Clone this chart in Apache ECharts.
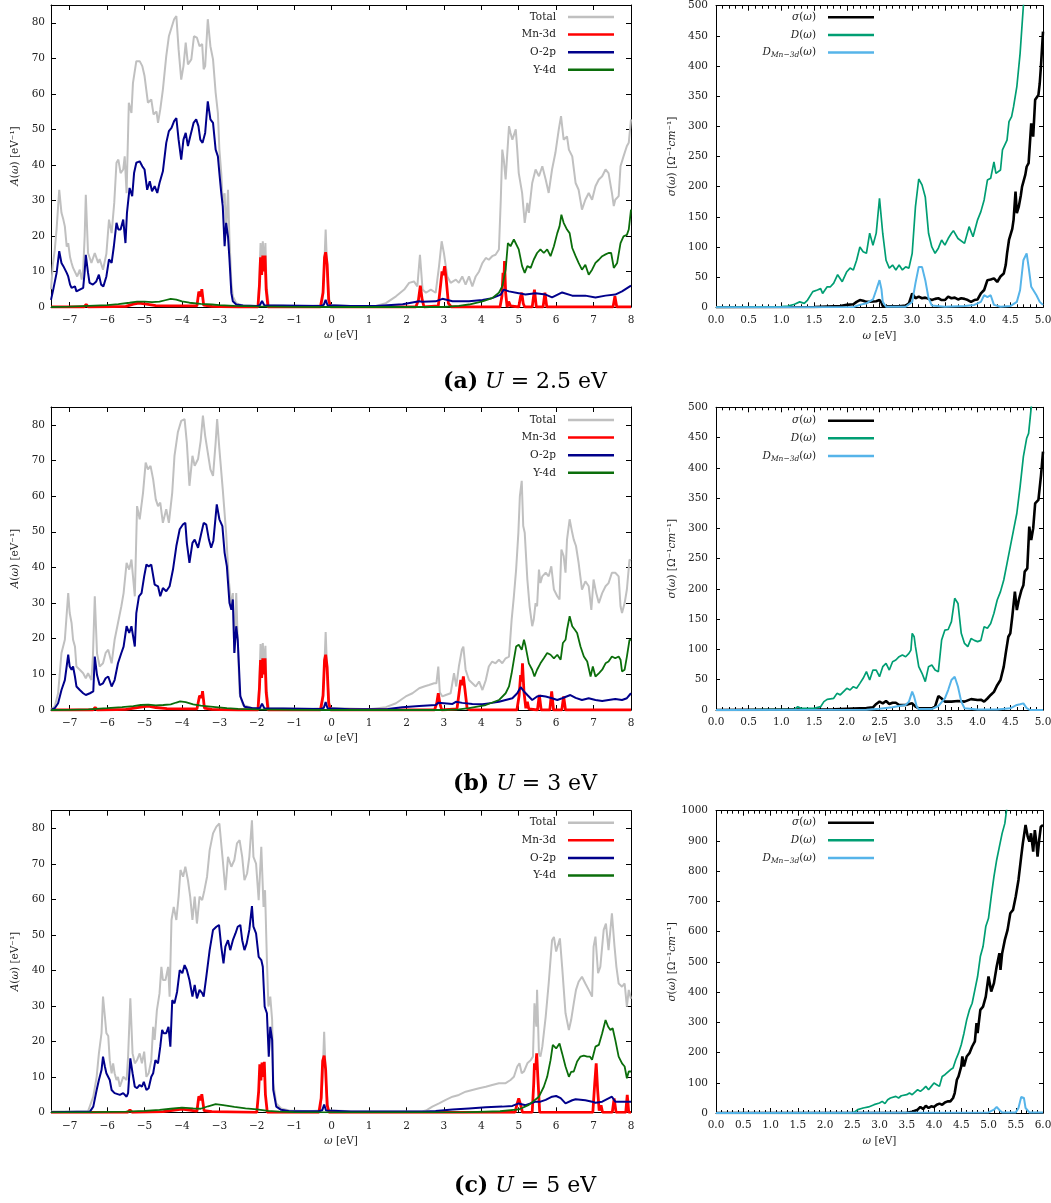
<!DOCTYPE html>
<html><head><meta charset="utf-8">
<script src="https://cdn.jsdelivr.net/npm/echarts@6/dist/echarts.min.js"></script>
<style>html,body{margin:0;padding:0;background:#fff}#c{width:1051px;height:1203px}</style>
</head><body><div id="c"></div>
<script>
// ---------------- DATA ----------------
const dosXTicks = [-7,-6,-5,-4,-3,-2,-1,0,1,2,3,4,5,6,7,8];
const dosYTicks = [0,10,20,30,40,50,60,70,80];
const dosNames = ['Total','Mn-3d','O-2p','Y-4d'];
const optNames = ['σ(ω)','D(ω)','DMn(ω)'];
const captions = [['(a)','2.5'],['(b)','3'],['(c)','5']];

// (a) U = 2.5 eV
const a_total = [[-7.5,5],[-7.45,12],[-7.4,16],[-7.35,22],[-7.28,33],[-7.22,26.5],[-7.17,24.6],[-7.13,22.7],[-7.08,17],[-7.04,18],[-6.99,14],[-6.95,12.4],[-6.91,11],[-6.86,10.5],[-6.8,8.6],[-6.73,10.5],[-6.68,7.7],[-6.64,10.5],[-6.6,20],[-6.57,31.6],[-6.51,15.2],[-6.42,12.4],[-6.33,15.2],[-6.24,12.4],[-6.2,13.5],[-6.11,10.5],[-6.02,15],[-5.95,24.6],[-5.88,20.8],[-5.81,29.3],[-5.75,40.6],[-5.7,41.5],[-5.64,37.7],[-5.57,38.7],[-5.53,42.4],[-5.48,32],[-5.42,57.5],[-5.35,54.6],[-5.31,63],[-5.22,69.2],[-5.13,69.2],[-5.06,67.8],[-5.0,65],[-4.91,57.5],[-4.82,58.4],[-4.76,54.2],[-4.68,55],[-4.64,51.8],[-4.58,55.6],[-4.51,61.2],[-4.42,70.6],[-4.35,76.2],[-4.28,78.6],[-4.21,81],[-4.15,81.9],[-4.09,72.5],[-4.02,64],[-3.96,67.8],[-3.9,74.4],[-3.84,68.3],[-3.75,69.7],[-3.68,76.2],[-3.6,75.8],[-3.53,73.4],[-3.46,74],[-3.42,66.9],[-3.38,67.8],[-3.31,81],[-3.24,73.4],[-3.17,69.7],[-3.1,60.3],[-3.04,54.6],[-3.0,44.3],[-2.95,37.7],[-2.91,29.3],[-2.86,32],[-2.82,20.8],[-2.77,33],[-2.73,19],[-2.68,6.8],[-2.64,3],[-2.55,1.1],[-2.37,0.4],[-2.1,0.3],[-1.97,0.3],[-1.93,8],[-1.9,18],[-1.87,10],[-1.84,18.5],[-1.8,12],[-1.77,18],[-1.74,6],[-1.68,0.5],[-1.2,0.3],[-0.5,0.3],[-0.26,0.5],[-0.21,8],[-0.16,21.8],[-0.11,8],[-0.05,0.6],[0.5,0.3],[1.0,0.2],[1.18,0.3],[1.45,1.1],[1.72,3],[1.94,4.9],[2.07,6.8],[2.2,7.2],[2.29,5.8],[2.36,14.7],[2.43,4.9],[2.52,4],[2.65,4.9],[2.78,4],[2.87,11.5],[2.94,18.5],[3.0,15.2],[3.09,8.6],[3.18,6.8],[3.32,7.7],[3.4,6.8],[3.49,8.6],[3.58,6.3],[3.67,8.6],[3.76,5.8],[3.85,8.6],[3.94,10],[4.03,12.4],[4.12,13.8],[4.2,13.3],[4.29,14.3],[4.38,14.7],[4.47,16.2],[4.52,30.2],[4.56,44.3],[4.6,41.5],[4.65,35.9],[4.74,50.9],[4.78,49],[4.83,47.1],[4.92,50],[4.96,44.3],[5.0,37.7],[5.09,32.1],[5.16,23.7],[5.23,29.3],[5.27,26.5],[5.36,34.9],[5.45,38.7],[5.54,36.8],[5.63,39.6],[5.72,35.9],[5.8,32.1],[5.89,38.7],[5.98,43.4],[6.07,50],[6.13,53.7],[6.2,47.1],[6.29,48],[6.34,44.3],[6.43,42.4],[6.52,34.9],[6.6,33],[6.69,27.4],[6.78,30.2],[6.87,32.1],[6.96,30.2],[7.05,34],[7.14,35.9],[7.23,36.8],[7.32,38.7],[7.4,37.7],[7.49,32.1],[7.54,28.4],[7.58,30.2],[7.67,31.2],[7.72,39.6],[7.8,42.4],[7.89,45.3],[7.94,46.2],[8.0,52.8]];
const a_mn = [[-7.5,0],[-6.62,0],[-6.56,0.7],[-6.5,0],[-5.5,0.2],[-5.3,0.8],[-5.15,1.1],[-4.95,0.8],[-4.7,0.4],[-4.3,0.3],[-3.6,0.3],[-3.57,0.5],[-3.55,4.3],[-3.52,4.6],[-3.49,3],[-3.47,5],[-3.44,4.5],[-3.42,0.5],[-3.2,0.2],[-2.5,0],[-1.97,0],[-1.93,6],[-1.9,14],[-1.87,9],[-1.84,14.5],[-1.81,10],[-1.78,14.5],[-1.75,5],[-1.7,0],[-0.3,0],[-0.23,4],[-0.19,14],[-0.16,15.4],[-0.12,12],[-0.08,2],[-0.03,0],[0.65,0],[0.7,0.3],[0.75,0],[2.25,0],[2.32,2],[2.37,6],[2.42,2],[2.47,0],[2.85,0.3],[2.91,6],[2.95,10],[2.98,9],[3.02,11.5],[3.06,8],[3.12,1],[3.2,0],[4.5,0],[4.55,3],[4.58,9.6],[4.6,6],[4.62,12.9],[4.65,4],[4.69,0],[4.73,1.5],[4.75,2],[4.78,0.3],[5.0,0],[5.05,3],[5.08,4],[5.12,1],[5.16,0],[5.36,0],[5.42,4.9],[5.47,0],[5.65,0],[5.7,4],[5.75,0],[7.52,0],[7.57,3],[7.62,0],[8,0]];
const a_o = [[-7.5,2],[-7.44,4.9],[-7.35,9.6],[-7.28,15.7],[-7.22,12.4],[-7.17,11.5],[-7.13,11.8],[-7.08,9.6],[-7.04,8.6],[-6.99,6.3],[-6.95,5.4],[-6.91,4.9],[-6.86,5.8],[-6.82,4.4],[-6.77,3.9],[-6.73,4.9],[-6.68,4.4],[-6.64,5.4],[-6.6,10],[-6.57,14.7],[-6.51,9.6],[-6.47,6.8],[-6.38,6.3],[-6.29,7.2],[-6.22,9.1],[-6.16,6.3],[-6.1,5.8],[-6.02,8.6],[-5.95,13.4],[-5.88,12.4],[-5.82,17.1],[-5.75,23.7],[-5.7,21.8],[-5.64,21.8],[-5.57,24.6],[-5.51,18],[-5.47,26.5],[-5.4,33.5],[-5.33,31.2],[-5.28,37.7],[-5.22,40.6],[-5.13,41],[-5.06,39.6],[-5.0,38.7],[-4.93,33],[-4.86,35.4],[-4.8,32.6],[-4.73,34],[-4.66,32.1],[-4.6,34.9],[-4.51,38.2],[-4.42,46.2],[-4.35,49.5],[-4.28,50.4],[-4.21,52.3],[-4.15,53.2],[-4.09,47.1],[-4.02,41.5],[-3.96,47.1],[-3.9,49],[-3.84,45.3],[-3.78,48],[-3.69,51.8],[-3.62,52.8],[-3.56,50.9],[-3.51,47.1],[-3.45,46.2],[-3.38,49],[-3.31,57.9],[-3.24,52.8],[-3.17,51.8],[-3.1,44.3],[-3.04,42.4],[-3.0,37.7],[-2.95,32.1],[-2.91,28.4],[-2.86,17.1],[-2.82,23.7],[-2.77,19.9],[-2.73,13.3],[-2.68,3.9],[-2.64,1.6],[-2.55,0.7],[-2.37,0.4],[-2.0,0.3],[-1.92,0.5],[-1.86,1.7],[-1.8,0.5],[-0.3,0.3],[-0.21,0.6],[-0.16,2],[-0.11,0.5],[0.5,0.3],[1.18,0.3],[1.9,0.8],[2.34,1.6],[2.37,2],[2.42,1.5],[2.78,1.6],[2.96,2.3],[3.23,1.6],[3.67,1.6],[4.03,2],[4.29,2.5],[4.52,3.5],[4.6,4.9],[4.74,4.4],[5.0,3.9],[5.18,3.5],[5.45,3.9],[5.72,3.5],[5.89,2.7],[6.16,4.1],[6.43,3.2],[6.78,3.2],[7.05,2.7],[7.32,3.2],[7.58,3.5],[7.76,4.4],[8.0,6]];
const a_y = [[-7.5,0],[-7.0,0.1],[-6.5,0.3],[-6.0,0.5],[-5.7,0.8],[-5.4,1.2],[-5.2,1.5],[-5.0,1.5],[-4.8,1.4],[-4.6,1.5],[-4.45,1.9],[-4.3,2.3],[-4.15,2.1],[-4.0,1.6],[-3.8,1.2],[-3.5,0.9],[-3.2,0.7],[-3.0,0.5],[-2.6,0.3],[-2.0,0.15],[-1.0,0.05],[0,0],[3.0,0],[3.4,0.3],[3.67,0.7],[4.03,1.6],[4.29,2.5],[4.47,4],[4.56,5.8],[4.65,10.5],[4.71,18],[4.78,17.1],[4.87,19],[4.92,19.4],[5.0,16.2],[5.09,11.5],[5.16,9.6],[5.23,11.5],[5.32,11],[5.4,13.3],[5.49,15.2],[5.58,16.2],[5.67,15.2],[5.76,16.2],[5.85,14.3],[5.94,17.1],[6.03,20.8],[6.09,22.7],[6.14,26],[6.2,23.7],[6.29,21.8],[6.36,20.8],[6.43,16.6],[6.52,14.3],[6.6,12.4],[6.69,10.5],[6.78,11.9],[6.87,9.1],[6.96,10.5],[7.05,12.4],[7.14,13.3],[7.23,14.3],[7.32,14.8],[7.4,15.2],[7.47,15.2],[7.54,11],[7.63,12.4],[7.72,18],[7.8,19.9],[7.89,20.3],[7.94,21.8],[8.0,27.4]];
const ra_sig = [[0,0],[1.5,0.5],[1.9,2],[2.0,4],[2.1,5],[2.15,9],[2.2,12],[2.25,11],[2.3,9],[2.4,9.5],[2.45,10],[2.5,12],[2.53,8],[2.55,2],[2.6,1.5],[2.8,1.5],[2.9,3],[2.95,6.6],[3.0,23],[3.05,15],[3.1,17.7],[3.15,15],[3.2,16],[3.25,14],[3.3,12],[3.35,14],[3.4,15],[3.45,12],[3.5,12],[3.55,17.7],[3.6,15],[3.65,16],[3.7,13],[3.75,15],[3.8,14],[3.85,12],[3.9,9],[3.95,12],[4.0,13],[4.05,23],[4.1,28.7],[4.15,45],[4.2,46],[4.25,48],[4.3,42],[4.35,51],[4.4,56],[4.43,70],[4.45,89],[4.48,111.6],[4.5,114],[4.53,130],[4.55,145],[4.58,192],[4.6,156],[4.63,167],[4.66,185],[4.68,200],[4.7,208],[4.73,220],[4.75,233],[4.78,239],[4.82,305],[4.85,283],[4.88,344],[4.93,352],[4.95,371],[4.97,402],[5.0,457]];
const ra_D = [[0,0],[1.0,1],[1.1,2],[1.2,5],[1.28,9],[1.35,6.6],[1.4,12],[1.48,26],[1.55,28.7],[1.6,31],[1.63,23],[1.7,34],[1.75,34],[1.8,40],[1.86,54],[1.93,42.5],[2.0,59],[2.05,65],[2.1,62],[2.15,78],[2.2,100],[2.25,92],[2.3,89.5],[2.35,123],[2.4,103],[2.45,123],[2.5,180.7],[2.55,122],[2.6,78],[2.65,65],[2.7,70],[2.75,62],[2.8,70],[2.85,62],[2.9,67],[2.95,65],[3.0,89.5],[3.05,167],[3.1,212.7],[3.15,203],[3.2,183],[3.25,122.7],[3.3,100],[3.35,89.5],[3.4,98],[3.45,111.6],[3.5,103],[3.55,114],[3.6,122.7],[3.63,127],[3.7,114],[3.8,106],[3.83,103],[3.87,133.7],[3.9,133],[3.93,117],[4.0,145],[4.05,158.6],[4.1,178],[4.15,211],[4.2,214],[4.25,241],[4.28,222],[4.35,227.6],[4.38,260.8],[4.45,277],[4.48,307.7],[4.52,316],[4.55,332.6],[4.6,365.7],[4.65,421],[4.7,500],[4.75,580]];
const ra_Dmn = [[0,0],[2.1,0.5],[2.2,4],[2.3,6.6],[2.4,13],[2.45,28.7],[2.5,45],[2.53,30],[2.55,9],[2.6,1],[2.9,1],[3.0,9],[3.05,40],[3.1,67],[3.15,67],[3.2,45],[3.25,15],[3.3,3],[3.5,1],[3.8,2],[3.95,4],[4.05,9],[4.1,20],[4.15,17],[4.2,20],[4.25,4],[4.35,1],[4.5,2],[4.6,9],[4.65,28.7],[4.7,78],[4.75,89.5],[4.78,67],[4.82,34],[4.85,35],[4.9,20],[4.95,9],[5.0,4]];

// (b) U = 3 eV
const b_total = [[-7.5,0.2],[-7.4,1],[-7.31,4.7],[-7.22,16],[-7.13,19.7],[-7.04,32.8],[-7.0,27.2],[-6.95,24.4],[-6.91,19.7],[-6.86,17.8],[-6.82,12.2],[-6.73,11.3],[-6.64,10.3],[-6.57,8.9],[-6.51,10.3],[-6.42,8.4],[-6.38,15],[-6.33,31.9],[-6.27,15.9],[-6.2,12.2],[-6.11,13.1],[-6.04,16],[-5.97,16.9],[-5.88,13.1],[-5.8,19.7],[-5.71,24.4],[-5.62,29.1],[-5.56,32.8],[-5.48,41.3],[-5.41,39.4],[-5.35,42.2],[-5.26,31.9],[-5.2,57.2],[-5.13,53.5],[-5.04,61],[-4.97,69.4],[-4.91,67.5],[-4.84,68.5],[-4.77,64.7],[-4.7,59.1],[-4.64,57.2],[-4.58,58.2],[-4.51,52.5],[-4.42,56.3],[-4.35,52.5],[-4.26,61],[-4.2,71.3],[-4.11,77.9],[-4.02,81.1],[-3.93,81.6],[-3.87,75],[-3.8,62.9],[-3.72,71.3],[-3.66,68.5],[-3.57,70.4],[-3.5,75.5],[-3.44,82.6],[-3.38,76.9],[-3.31,72.2],[-3.24,67.5],[-3.17,65.7],[-3.1,75],[-3.06,81.6],[-3.0,73.2],[-2.91,61.9],[-2.82,49.7],[-2.75,36.6],[-2.68,29.1],[-2.64,32.8],[-2.6,16],[-2.55,32.8],[-2.51,19.7],[-2.46,4.7],[-2.37,1.4],[-2.11,0.5],[-1.97,0.4],[-1.93,8],[-1.9,18.5],[-1.87,10],[-1.84,18.8],[-1.8,12],[-1.77,18],[-1.74,6],[-1.68,0.5],[-0.5,0.3],[-0.26,0.5],[-0.21,8],[-0.16,21.9],[-0.11,8],[-0.05,0.6],[1.0,0.2],[1.45,0.8],[1.72,1.9],[1.98,3.8],[2.16,4.7],[2.34,6.1],[2.47,6.6],[2.6,7],[2.74,7.5],[2.8,7.5],[2.85,12.2],[2.89,5],[2.96,3.8],[3.05,4.2],[3.18,4.7],[3.27,10.3],[3.33,6.6],[3.4,12.2],[3.48,16.9],[3.52,17.8],[3.58,11.3],[3.67,8.4],[3.76,7.5],[3.85,6.6],[3.94,8],[4.03,5.6],[4.12,8.4],[4.2,12.2],[4.29,13.6],[4.38,13.1],[4.47,14.1],[4.56,13.1],[4.65,14.5],[4.74,15],[4.81,25.3],[4.87,31.9],[4.93,39.4],[4.99,49.7],[5.03,60],[5.08,64.3],[5.12,51.6],[5.16,49.7],[5.23,36.6],[5.29,29.1],[5.36,23.5],[5.4,25.3],[5.45,30],[5.49,29.1],[5.54,39.4],[5.58,35.6],[5.63,37.5],[5.72,38.5],[5.8,37.5],[5.87,40.3],[5.94,33.8],[6.03,31.9],[6.09,31],[6.14,45],[6.2,43.2],[6.25,38.5],[6.29,47.8],[6.36,53.5],[6.43,49.7],[6.47,47.8],[6.53,46],[6.6,41.3],[6.69,33.8],[6.78,36.1],[6.87,34.7],[6.94,28.1],[7.0,36.6],[7.07,32.8],[7.14,30],[7.23,32.8],[7.32,34.7],[7.4,35.6],[7.49,38.5],[7.58,38.5],[7.67,37.5],[7.72,29.1],[7.76,27.2],[7.83,30],[7.89,33.8],[7.96,42.2],[8.0,42]];
const b_mn = [[-7.5,0],[-6.38,0],[-6.32,0.7],[-6.26,0],[-5.5,0.2],[-5.1,0.8],[-4.9,1.1],[-4.7,0.7],[-4.4,0.4],[-3.6,0.3],[-3.55,0.6],[-3.53,4],[-3.5,4.5],[-3.47,3.5],[-3.45,5.3],[-3.42,4.8],[-3.4,0.5],[-3.2,0.2],[-2.5,0],[-1.97,0],[-1.93,6],[-1.9,14],[-1.87,9],[-1.84,14.5],[-1.81,10],[-1.78,14.5],[-1.75,5],[-1.7,0],[-0.3,0],[-0.23,4],[-0.19,14],[-0.16,15.5],[-0.12,12],[-0.08,2],[-0.03,0],[1.05,0],[1.1,0.3],[1.15,0],[2.75,0],[2.81,2],[2.85,4.7],[2.89,2],[2.94,0],[3.35,0.3],[3.42,6],[3.45,8.4],[3.49,7],[3.52,9.4],[3.56,6],[3.62,0.5],[3.7,0],[4.95,0],[5.01,4],[5.05,9.8],[5.08,8],[5.1,13.1],[5.14,5],[5.19,0.5],[5.23,2.3],[5.27,0.3],[5.5,0],[5.55,4.2],[5.6,0],[5.83,0],[5.88,5.2],[5.93,0],[6.15,0],[6.2,3.8],[6.25,0],[8,0]];
const b_o = [[-7.5,0],[-7.4,0.5],[-7.31,1.9],[-7.22,5.6],[-7.13,8.4],[-7.04,15.5],[-7.0,12.2],[-6.95,11.3],[-6.91,12.2],[-6.86,9.4],[-6.82,6.6],[-6.73,5.6],[-6.64,4.7],[-6.57,4.2],[-6.46,4.7],[-6.37,5.2],[-6.33,15],[-6.27,9.8],[-6.2,7],[-6.11,7.5],[-6.04,8.9],[-5.97,9.4],[-5.88,6.6],[-5.8,8.4],[-5.71,13.1],[-5.62,16],[-5.56,17.8],[-5.48,23.5],[-5.41,21.6],[-5.35,23.5],[-5.26,17.8],[-5.22,27.2],[-5.15,31.9],[-5.08,32.8],[-5.01,37.5],[-4.95,40.8],[-4.89,40.3],[-4.82,40.8],[-4.73,35.2],[-4.64,34.7],[-4.58,31.9],[-4.51,34.2],[-4.42,33.3],[-4.33,34.7],[-4.24,39.4],[-4.15,46],[-4.06,50.7],[-3.97,52.1],[-3.91,52.5],[-3.87,46.9],[-3.8,41.3],[-3.72,46.9],[-3.66,47.8],[-3.57,45.5],[-3.5,48.8],[-3.42,52.5],[-3.35,52],[-3.28,47.8],[-3.22,45.5],[-3.16,47.5],[-3.07,57.7],[-3.0,53.5],[-2.92,51.6],[-2.86,44.1],[-2.8,40.3],[-2.73,30],[-2.68,28.1],[-2.64,31],[-2.6,16],[-2.55,23.5],[-2.51,19.7],[-2.44,3.8],[-2.33,0.9],[-2.11,0.5],[-1.92,0.5],[-1.86,1.8],[-1.8,0.5],[-0.3,0.3],[-0.21,0.6],[-0.16,2.2],[-0.11,0.5],[0.5,0.2],[1.5,0.3],[1.89,0.8],[2.34,1.1],[2.78,1.4],[2.85,2],[3.23,1.7],[3.32,2.3],[3.49,2],[3.76,1.7],[4.03,1.6],[4.29,2],[4.47,2.3],[4.65,2.8],[4.83,3.3],[4.96,4.7],[5.05,6.4],[5.14,5.2],[5.23,4.2],[5.36,2.8],[5.49,3.8],[5.58,4],[5.72,3.8],[5.89,3.3],[6.03,2.8],[6.16,3.3],[6.38,4.2],[6.52,3.4],[6.69,2.8],[6.87,3.3],[7.05,2.8],[7.23,2.5],[7.4,2.8],[7.58,3.1],[7.76,2.8],[7.89,3.3],[8.0,4.7]];
const b_y = [[-7.5,0],[-7.0,0.05],[-6.5,0.2],[-6.0,0.5],[-5.6,0.8],[-5.3,1.1],[-5.1,1.4],[-4.9,1.5],[-4.7,1.3],[-4.5,1.4],[-4.3,1.6],[-4.15,2.1],[-4.05,2.4],[-3.9,2.2],[-3.7,1.6],[-3.5,1.2],[-3.3,1.0],[-3.1,0.8],[-2.8,0.5],[-2.5,0.3],[-2.0,0.15],[-1.0,0.05],[0,0],[3.0,0],[3.4,0.2],[3.67,0.5],[4.12,1.4],[4.47,2.8],[4.65,4.7],[4.74,6.6],[4.81,10.3],[4.87,14.1],[4.93,17.8],[5.0,18.3],[5.08,16.9],[5.14,19.7],[5.18,18],[5.27,13.1],[5.36,11.3],[5.42,9.4],[5.49,11.3],[5.58,13.1],[5.67,14.5],[5.76,16],[5.85,15.5],[5.94,14.5],[6.03,15.5],[6.12,14.1],[6.18,18.8],[6.25,19.7],[6.29,22.5],[6.36,26.3],[6.43,23.5],[6.5,22.5],[6.56,21.6],[6.65,17.8],[6.74,15],[6.83,13.6],[6.92,9.4],[6.98,12.2],[7.05,9.4],[7.14,10.3],[7.23,11.3],[7.32,13.1],[7.4,13.6],[7.49,15],[7.58,14.5],[7.67,15],[7.72,14.1],[7.76,10.8],[7.83,11.3],[7.89,15],[7.96,19.7],[8.0,19.7]];
const rb_sig = [[0,0],[1.8,1],[2.0,2],[2.3,3.3],[2.4,4.4],[2.45,10],[2.5,13.8],[2.55,11],[2.6,14.9],[2.65,10],[2.7,12],[2.75,12],[2.8,8.3],[2.9,8.3],[2.95,10],[3.0,11],[3.02,8],[3.05,5.5],[3.1,2.8],[3.3,2.8],[3.35,5.5],[3.4,23],[3.45,19],[3.5,13.8],[3.6,13.8],[3.7,15],[3.8,13.8],[3.9,18],[4.0,16.5],[4.05,17],[4.1,13.8],[4.15,19],[4.2,24.8],[4.25,30],[4.3,41],[4.35,49.5],[4.4,71.6],[4.43,93.6],[4.47,121],[4.5,126.7],[4.53,154],[4.57,195.5],[4.6,165],[4.63,181.7],[4.67,198],[4.7,206],[4.72,228.5],[4.76,234],[4.79,302.9],[4.82,280.8],[4.85,300],[4.88,341.4],[4.93,347],[4.97,388],[5.0,426.8]];
const rb_D = [[0,0],[1.2,1],[1.25,5.5],[1.3,2.8],[1.5,2.8],[1.6,5.5],[1.65,13.8],[1.7,17.6],[1.8,19.3],[1.85,27.5],[1.9,25],[2.0,35.8],[2.05,33],[2.1,38.5],[2.15,36],[2.2,44],[2.25,52.3],[2.3,63.3],[2.35,49.6],[2.4,66],[2.45,66],[2.5,55],[2.55,71.6],[2.6,77],[2.65,66],[2.7,79.8],[2.75,82.6],[2.8,88],[2.85,90.9],[2.9,88],[2.95,93.6],[2.98,99],[3.0,126.7],[3.03,121],[3.05,104.6],[3.1,71.6],[3.15,60.6],[3.2,46.8],[3.25,71.6],[3.3,74.3],[3.35,66],[3.4,63.3],[3.45,115.6],[3.5,132],[3.55,133],[3.6,146],[3.65,184.5],[3.7,176],[3.75,126.7],[3.8,110],[3.85,104.6],[3.9,118],[3.95,115],[4.0,112.9],[4.05,115],[4.1,137.7],[4.15,135],[4.2,143],[4.25,159.7],[4.3,181.7],[4.35,195.5],[4.4,214.7],[4.45,242.3],[4.5,269.8],[4.55,297.4],[4.6,325],[4.65,369],[4.7,418.5],[4.75,448.8],[4.78,457],[4.82,500],[4.86,540]];
const rb_Dmn = [[0,0],[2.3,0.5],[2.5,2],[2.7,4.4],[2.8,6.6],[2.9,8.3],[2.95,13.8],[3.0,30.3],[3.03,22],[3.07,5.5],[3.1,1.5],[3.3,1.5],[3.4,6.6],[3.5,19.3],[3.55,33],[3.6,49.6],[3.65,55],[3.7,38.5],[3.75,13.8],[3.8,3],[4.0,1],[4.3,1],[4.5,2.8],[4.6,8.3],[4.65,9.4],[4.7,11],[4.75,3],[4.8,0],[5.0,0]];

// (c) U = 5 eV
const c_total = [[-7.5,0.2],[-6.51,0.3],[-6.46,0.7],[-6.37,4.4],[-6.28,10],[-6.22,16.6],[-6.15,22.3],[-6.11,32.6],[-6.06,27],[-6.02,22.3],[-5.97,21.5],[-5.93,14.7],[-5.88,11],[-5.84,13.8],[-5.8,11],[-5.75,9.1],[-5.71,10],[-5.66,7.2],[-5.57,10],[-5.48,9.1],[-5.44,15.7],[-5.38,32.1],[-5.32,16.6],[-5.26,13.8],[-5.2,14.7],[-5.13,16.6],[-5.07,13.8],[-5.01,17.1],[-4.95,10],[-4.89,11],[-4.82,14.7],[-4.77,24.1],[-4.73,20.4],[-4.67,28.8],[-4.6,33.5],[-4.55,41],[-4.51,37.3],[-4.44,37.3],[-4.37,41],[-4.33,32.6],[-4.28,54.2],[-4.22,57.9],[-4.15,54.2],[-4.09,60.8],[-4.04,68.3],[-3.97,66.4],[-3.91,69.2],[-3.84,65.4],[-3.78,60.8],[-3.72,54.2],[-3.66,60.8],[-3.6,53.2],[-3.53,60.8],[-3.46,59.8],[-3.4,62.6],[-3.33,66.4],[-3.26,73.9],[-3.17,78.6],[-3.08,80.5],[-3.0,81.4],[-2.91,71.1],[-2.84,62.6],[-2.77,72],[-2.68,69.2],[-2.6,71.1],[-2.53,75.8],[-2.46,76.7],[-2.39,72],[-2.33,65.4],[-2.26,67.3],[-2.2,72],[-2.13,82.3],[-2.09,72],[-2.02,70.1],[-1.95,59.8],[-1.88,74.8],[-1.82,57.9],[-1.78,62.6],[-1.73,42.9],[-1.69,29.8],[-1.64,32.6],[-1.59,26],[-1.56,8.2],[-1.48,2.5],[-1.35,1.1],[-1.13,0.5],[-0.6,0.3],[-0.3,0.5],[-0.25,8],[-0.2,22.7],[-0.15,8],[-0.09,0.6],[0.5,0.3],[2.0,0.2],[2.43,0.3],[2.52,0.5],[2.69,1.6],[2.87,2.5],[3.05,3.5],[3.23,4.4],[3.4,4.9],[3.58,5.8],[3.76,6.3],[3.94,6.8],[4.12,7.2],[4.29,7.7],[4.47,8.2],[4.65,8.2],[4.78,9.1],[4.87,10],[4.96,12.9],[5.02,13.8],[5.08,11],[5.14,11.5],[5.23,13.8],[5.32,14.7],[5.38,15.7],[5.42,30.7],[5.47,24.1],[5.49,34.5],[5.54,16.6],[5.58,15.7],[5.63,18.5],[5.72,26.9],[5.8,36.3],[5.89,48.5],[5.94,49.4],[6.0,45.3],[6.05,45.8],[6.1,49],[6.16,41],[6.25,27.9],[6.34,23.2],[6.4,26],[6.47,30.7],[6.53,34.5],[6.6,36.8],[6.69,38.2],[6.78,36.3],[6.87,34.5],[6.96,32.6],[7.0,46.7],[7.05,49.5],[7.12,39.2],[7.18,41],[7.27,51.4],[7.33,53.2],[7.4,45.7],[7.49,56.1],[7.56,46.7],[7.61,41],[7.67,36.3],[7.76,35.4],[7.83,36.3],[7.89,29.8],[7.94,34.5],[8.0,32]];
const c_mn = [[-7.5,0],[-5.45,0],[-5.39,0.7],[-5.33,0],[-4.5,0.2],[-4.2,0.6],[-4.0,0.9],[-3.8,0.6],[-3.6,0.3],[-3.57,0.6],[-3.55,4.5],[-3.52,4.8],[-3.49,3.5],[-3.47,5.1],[-3.44,4.6],[-3.41,0.5],[-3.2,0.2],[-2.0,0],[-1.98,0],[-1.95,6],[-1.92,13.5],[-1.89,9],[-1.86,14],[-1.83,10],[-1.8,14.2],[-1.77,5],[-1.72,0],[-0.34,0],[-0.28,4],[-0.24,14.5],[-0.2,16],[-0.16,12],[-0.12,2],[-0.07,0],[4.9,0],[4.96,2.5],[5.0,3.9],[5.04,2.5],[5.1,0],[5.36,0],[5.4,8],[5.42,13.8],[5.45,12],[5.48,16.6],[5.51,10],[5.56,0],[6.98,0],[7.03,8],[7.07,13.8],[7.11,6],[7.15,0.5],[7.2,2],[7.24,0],[7.5,0],[7.55,3.9],[7.6,0],[7.86,0],[7.9,4.9],[7.94,0],[8,0]];
const c_o = [[-7.5,0],[-6.46,0.2],[-6.37,1.6],[-6.28,6.3],[-6.22,9.1],[-6.15,11.9],[-6.11,15.7],[-6.06,12.9],[-6.02,11],[-5.97,11.5],[-5.93,9.1],[-5.88,6.3],[-5.84,6.3],[-5.8,5.4],[-5.75,5.8],[-5.66,4.9],[-5.57,5.4],[-5.48,4.4],[-5.44,5.4],[-5.38,15.2],[-5.32,11],[-5.26,7.2],[-5.2,6.8],[-5.13,7.7],[-5.07,7.2],[-5.02,8.6],[-4.95,6.3],[-4.89,6.8],[-4.82,10],[-4.77,11],[-4.71,14.7],[-4.64,13.8],[-4.58,18.5],[-4.53,23.2],[-4.49,22.3],[-4.42,22.3],[-4.36,24.1],[-4.31,18.5],[-4.26,31.6],[-4.2,30.7],[-4.13,34],[-4.06,40.1],[-3.99,39.2],[-3.93,41.5],[-3.87,40.1],[-3.8,37.3],[-3.72,32.6],[-3.66,35.9],[-3.6,32.1],[-3.53,34.5],[-3.46,33.6],[-3.42,32.6],[-3.35,38.2],[-3.26,45.7],[-3.17,51.4],[-3.08,52.3],[-3.01,52.8],[-2.95,46.7],[-2.89,42],[-2.84,46.7],[-2.77,48.5],[-2.71,45.7],[-2.64,48.5],[-2.57,50.4],[-2.51,52.3],[-2.44,52.8],[-2.39,48.5],[-2.33,45.7],[-2.27,47.6],[-2.2,51.4],[-2.13,58.1],[-2.09,52.3],[-2.02,50.4],[-1.95,43.8],[-1.88,42.9],[-1.84,41],[-1.79,29.8],[-1.73,27.9],[-1.68,15.7],[-1.64,24.1],[-1.59,20.4],[-1.56,6.3],[-1.48,1.6],[-1.35,0.7],[-1.13,0.3],[-0.35,0.3],[-0.25,0.6],[-0.2,2.2],[-0.15,0.5],[0.5,0.2],[2.5,0.2],[2.78,0.4],[3.23,0.8],[3.67,1.1],[4.12,1.4],[4.56,1.6],[4.83,1.8],[5.0,2.5],[5.18,2],[5.45,3],[5.58,3],[5.72,3.5],[5.89,4.4],[6.0,4.6],[6.12,4],[6.25,2.5],[6.43,3.4],[6.52,3.7],[6.78,3.4],[6.96,3],[7.05,2.7],[7.23,3],[7.49,4.4],[7.58,3],[7.76,3],[8.0,3]];
const c_y = [[-7.5,0],[-6.5,0],[-6.0,0.1],[-5.5,0.2],[-5.0,0.4],[-4.6,0.7],[-4.3,1.0],[-4.0,1.3],[-3.7,1.1],[-3.5,1.0],[-3.3,1.7],[-3.1,2.3],[-2.9,2.0],[-2.6,1.5],[-2.3,1.1],[-2.0,0.8],[-1.7,0.4],[-1.4,0.2],[-1.0,0.05],[0,0],[3.5,0],[4.5,0.3],[5.0,0.8],[5.27,2.1],[5.54,4.4],[5.67,7.2],[5.76,10],[5.85,14.7],[5.91,19],[6.0,18],[6.09,19.4],[6.16,16.6],[6.25,12.9],[6.34,10],[6.4,11.4],[6.47,11.5],[6.56,14.3],[6.65,15.7],[6.74,16],[6.83,15.7],[6.9,15.7],[6.96,14.8],[7.05,18.5],[7.14,19],[7.23,22.3],[7.32,26],[7.39,24.1],[7.45,23.2],[7.51,23.7],[7.58,20.4],[7.67,15.7],[7.76,13.8],[7.83,12.9],[7.89,9.6],[7.94,11.5],[8.0,11.5]];
const rc_sig = [[0,0],[3.5,0.5],[3.6,4.4],[3.7,11],[3.75,20],[3.8,13],[3.85,24],[3.9,16.5],[3.95,22],[4.0,20],[4.05,27.5],[4.1,31],[4.15,27.5],[4.2,35],[4.25,38.5],[4.3,38.5],[4.35,49.6],[4.38,66],[4.42,110],[4.45,121],[4.5,154],[4.52,187],[4.55,154],[4.6,187],[4.65,198],[4.7,220],[4.75,237],[4.78,297],[4.8,264],[4.85,341],[4.9,352],[4.95,385],[5.0,451.5],[5.05,402],[5.1,429.5],[5.15,484.6],[5.2,528.6],[5.22,473.6],[5.25,528],[5.3,572.7],[5.35,605.7],[5.4,660.8],[5.45,671.8],[5.5,715.9],[5.55,771],[5.6,848],[5.63,892],[5.68,952.6],[5.72,914],[5.75,897.6],[5.78,925],[5.82,864.5],[5.85,936],[5.88,892],[5.9,848],[5.93,903],[5.96,947],[6.0,952.6]];
const rc_D = [[0,0],[2.5,0.5],[2.55,4.4],[2.6,11],[2.7,16.5],[2.8,20],[2.9,27.5],[3.0,33],[3.05,38.5],[3.1,31],[3.15,44],[3.2,49.6],[3.3,55],[3.35,49.6],[3.4,57],[3.5,60.6],[3.55,66],[3.6,60.6],[3.7,77],[3.75,71.6],[3.8,79],[3.85,88],[3.9,77],[3.95,88],[4.0,99],[4.05,93.6],[4.1,88],[4.15,121],[4.2,126.7],[4.3,143],[4.35,148.7],[4.4,176],[4.45,198],[4.5,225.8],[4.55,264],[4.6,308],[4.65,341],[4.7,363],[4.75,407.5],[4.8,451.5],[4.85,517.6],[4.9,550.7],[4.95,616.7],[5.0,644],[5.05,716],[5.1,782],[5.15,837],[5.2,881],[5.25,925],[5.3,958],[5.33,1000],[5.36,1040]];
const rc_Dmn = [[0,0],[5.0,2],[5.1,11],[5.15,20],[5.2,10],[5.25,2],[5.5,2],[5.55,16.5],[5.6,53],[5.65,50],[5.68,16.5],[5.75,2],[6.0,2]];

// ---------------- CHART ----------------
const FONT = '"DejaVu Serif", serif';
const TXT = '#222';
const FS = 10.5;
const dosColors = {'Total':'#c0c0c0','Mn-3d':'#ff0000','O-2p':'#00008b','Y-4d':'#0b6e0b'};
const dosWidths = {'Total':2,'Mn-3d':2.8,'O-2p':2,'Y-4d':1.8};
const optColors = {'σ(ω)':'#000000','D(ω)':'#009e73','DMn(ω)':'#56b4e9'};
const optWidths = {'σ(ω)':2.6,'D(ω)':1.7,'DMn(ω)':2};

const leftSets = [[a_total,a_mn,a_o,a_y],[b_total,b_mn,b_o,b_y],[c_total,c_mn,c_o,c_y]];
const rightSets = [[ra_sig,ra_D,ra_Dmn],[rb_sig,rb_D,rb_Dmn],[rc_sig,rc_D,rc_Dmn]];
const rightXMax = [5,5,6];
const rightYMax = [500,500,1000];
const rightYInt = [50,50,100];

const leftGrid = [{top:5,height:302},{top:407,height:303},{top:810.7,height:301.6}];
const rightGrid = [{top:5.7,height:301.6},{top:407.3,height:302.7},{top:810.7,height:302.3}];
const legendTop = [10,413,815.7];
const rightLegendTop = [10.3,413.7,815.7];
const captionY = [382,784,1186];

const fmtMinus = v => v < 0 ? '−' + Math.abs(v) : String(v);
const lineBox = {show:true,onZero:false,lineStyle:{color:'#000',width:1}};
const labelStyle = {fontFamily:FONT,fontSize:FS,color:TXT};
const richI = {i:{fontFamily:FONT,fontSize:10.5,color:TXT,fontStyle:'italic'}};
const nameStyle = {fontFamily:FONT,fontSize:10.5,color:TXT,rich:richI};

const grid=[], xAxis=[], yAxis=[], series=[], legend=[], graphic=[];

for (let p=0;p<3;p++){
  // left DOS panel
  const g = grid.length;
  grid.push({left:51,top:leftGrid[p].top,width:580,height:leftGrid[p].height,containLabel:false,outerBoundsMode:'none'});
  const xi = xAxis.length, yi = yAxis.length;
  xAxis.push({type:'value',gridIndex:g,position:'bottom',min:-7.5,max:8,splitLine:{show:false},axisLine:lineBox,
    axisTick:{show:true,inside:true,length:5,customValues:dosXTicks,lineStyle:{color:'#000'}},
    axisLabel:Object.assign({customValues:dosXTicks,formatter:fmtMinus,margin:8},labelStyle),
    name:'{i|ω} [eV]',nameLocation:'middle',nameGap:23,nameTextStyle:nameStyle});
  xAxis.push({type:'value',gridIndex:g,position:'top',min:-7.5,max:8,splitLine:{show:false},axisLine:lineBox,
    axisTick:{show:true,inside:true,length:5,customValues:dosXTicks,lineStyle:{color:'#000'}},axisLabel:{show:false}});
  yAxis.push({type:'value',gridIndex:g,position:'left',min:0,max:85,splitLine:{show:false},axisLine:lineBox,
    axisTick:{show:true,inside:true,length:5,customValues:dosYTicks,lineStyle:{color:'#000'}},
    axisLabel:Object.assign({customValues:dosYTicks,margin:6,formatter:v=>String(v)},labelStyle),
    name:'{i|A}({i|ω}) [eV⁻¹]',nameLocation:'middle',nameGap:29,nameTextStyle:nameStyle});
  yAxis.push({type:'value',gridIndex:g,position:'right',min:0,max:85,splitLine:{show:false},axisLine:lineBox,
    axisTick:{show:true,inside:true,length:5,customValues:dosYTicks,lineStyle:{color:'#000'}},axisLabel:{show:false}});
  dosNames.forEach((n,k)=>{
    series.push({type:'line',name:n,xAxisIndex:xi,yAxisIndex:yi,data:leftSets[p][k],showSymbol:false,symbol:'none',
      lineStyle:{color:dosColors[n],width:dosWidths[n]},itemStyle:{color:dosColors[n]},animation:false,clip:true,z:2+k});
  });
  legend.push({show:true,orient:'vertical',align:'right',right:437,top:legendTop[p],padding:0,icon:'rect',itemWidth:46,itemHeight:2.5,itemGap:3.6,selectedMode:false,
    textStyle:{fontFamily:FONT,fontSize:10.5,color:TXT,lineHeight:14,padding:[0,7,0,0]},data:dosNames});

  // right optics panel
  const g2 = grid.length;
  grid.push({left:716,top:rightGrid[p].top,width:327,height:rightGrid[p].height,containLabel:false,outerBoundsMode:'none'});
  const xi2 = xAxis.length, yi2 = yAxis.length;
  const xm = rightXMax[p], ym = rightYMax[p], yint = rightYInt[p];
  const xCommon = {type:'value',gridIndex:g2,min:0,max:xm,interval:0.5,splitLine:{show:false},axisLine:lineBox,
    axisTick:{show:true,inside:true,length:5,lineStyle:{color:'#000'}},
    minorTick:{show:true,splitNumber:5,length:3,lineStyle:{color:'#000'}},minorSplitLine:{show:false}};
  xAxis.push(Object.assign({},xCommon,{position:'bottom',
    axisLabel:Object.assign({formatter:v=>v.toFixed(1),margin:7},labelStyle),
    name:'{i|ω} [eV]',nameLocation:'middle',nameGap:23,nameTextStyle:nameStyle}));
  xAxis.push(Object.assign({},xCommon,{position:'top',axisLabel:{show:false}}));
  const yCommon = {type:'value',gridIndex:g2,min:0,max:ym,interval:yint,splitLine:{show:false},axisLine:lineBox,
    axisTick:{show:true,inside:true,length:4,lineStyle:{color:'#000'}}};
  yAxis.push(Object.assign({},yCommon,{position:'left',axisLabel:Object.assign({margin:8,formatter:v=>String(v)},labelStyle),
    name:'{i|σ}({i|ω}) [Ω⁻¹{i|cm}⁻¹]',nameLocation:'middle',nameGap:38,nameTextStyle:nameStyle}));
  yAxis.push(Object.assign({},yCommon,{position:'right',axisLabel:{show:false}}));
  optNames.forEach((n,k)=>{
    series.push({type:'line',name:n,xAxisIndex:xi2,yAxisIndex:yi2,data:rightSets[p][k],showSymbol:false,symbol:'none',
      lineStyle:{color:optColors[n],width:optWidths[n]},itemStyle:{color:optColors[n]},animation:false,clip:true,z:2+k});
  });
  legend.push({show:true,orient:'vertical',align:'right',right:177,top:rightLegendTop[p],padding:0,icon:'rect',itemWidth:46,itemHeight:2.5,itemGap:3.6,selectedMode:false,
    formatter: n => n==='σ(ω)' ? '{i|σ}({i|ω})' : (n==='D(ω)' ? '{i|D}({i|ω})' : '{i|D}{s|Mn−3d}({i|ω})'),
    textStyle:{fontFamily:FONT,fontSize:10.5,color:TXT,lineHeight:14,padding:[0,7,0,0],
      rich:{i:{fontFamily:FONT,fontSize:10.5,color:TXT,fontStyle:'italic',lineHeight:14},
            s:{fontFamily:FONT,fontSize:7.5,color:TXT,fontStyle:'italic',verticalAlign:'bottom',lineHeight:10,padding:[5,0,0,0]}}},
    data:optNames});

  // caption
  graphic.push({type:'text',x:525,y:captionY[p],silent:true,
    style:{text:'{b|'+captions[p][0]+'} {i|U} = '+captions[p][1]+' eV',align:'center',verticalAlign:'middle',
      fontFamily:FONT,fontSize:22,fill:'#000',
      rich:{b:{fontFamily:FONT,fontSize:22,fontWeight:'bold',fill:'#000'},i:{fontFamily:FONT,fontSize:22,fontStyle:'italic',fill:'#000'}}}});
}

const chart = echarts.init(document.getElementById('c'),null,{renderer:'canvas'});
chart.setOption({animation:false,backgroundColor:'#fff',grid,xAxis,yAxis,series,legend,graphic});
</script></body></html>
